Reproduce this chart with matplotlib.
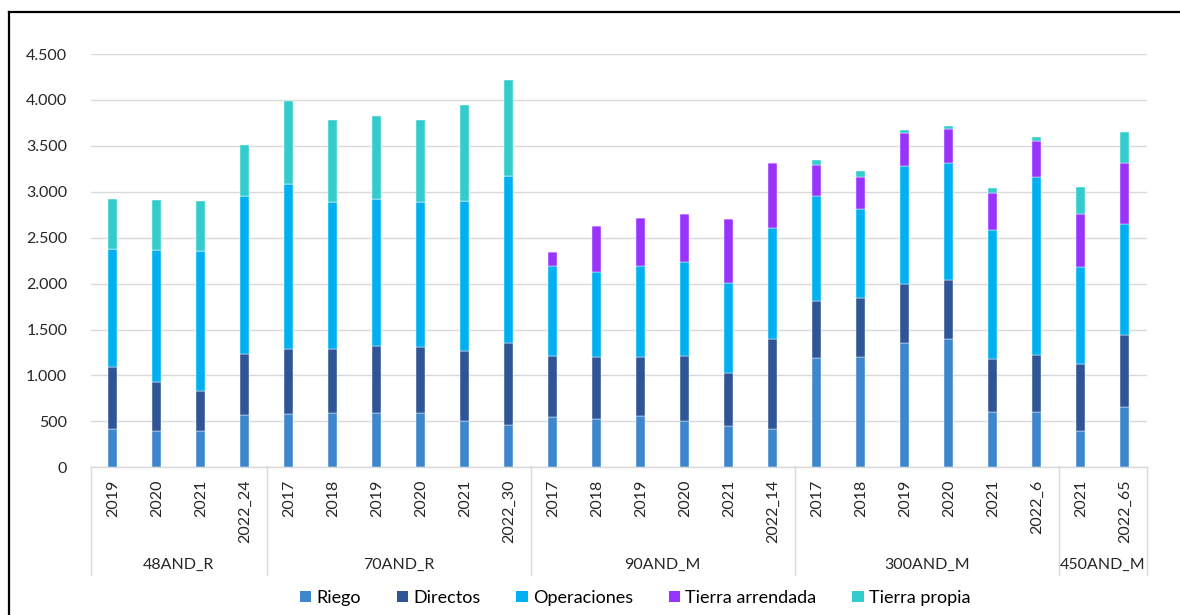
import matplotlib
matplotlib.use("Agg")
import matplotlib.pyplot as plt
from matplotlib.lines import Line2D
from matplotlib.patches import Patch
import matplotlib.transforms as mtransforms
import numpy as np

plt.rcParams['font.family'] = ['Lato', 'DejaVu Sans']

groups = ["48AND_R", "70AND_R", "90AND_M", "300AND_M", "450AND_M"]
group_sizes = [4, 6, 6, 6, 2]
years = ["2019", "2020", "2021", "2022_24",
         "2017", "2018", "2019", "2020", "2021", "2022_30",
         "2017", "2018", "2019", "2020", "2021", "2022_14",
         "2017", "2018", "2019", "2020", "2021", "2022_6",
         "2021", "2022_65"]

riego = [416, 398, 398, 568,
         579, 590, 590, 590, 503, 460,
         547, 525, 558, 503, 452, 416,
         1188, 1199, 1351, 1395, 601, 601,
         398, 655]
directos = [671, 526, 435, 667,
            714, 703, 728, 721, 761, 888,
            666, 671, 638, 710, 570, 986,
            627, 645, 649, 648, 573, 627,
            725, 787]
operaciones = [1289, 1446, 1526, 1717,
               1790, 1594, 1602, 1576, 1634, 1822,
               975, 930, 1000, 1019, 981, 1207,
               1134, 971, 1283, 1272, 1409, 1928,
               1058, 1210]
tierra_arrendada = [0, 0, 0, 0,
                    0, 0, 0, 0, 0, 0,
                    160, 500, 521, 521, 703, 699,
                    344, 344, 354, 366, 409, 398,
                    580, 659]
tierra_propia = [548, 543, 543, 559,
                 902, 899, 906, 899, 1051, 1051,
                 0, 0, 0, 0, 0, 0,
                 58, 62, 37, 40, 47, 47,
                 286, 345]

series_names = ["Riego", "Directos", "Operaciones", "Tierra arrendada", "Tierra propia"]
series = [riego, directos, operaciones, tierra_arrendada, tierra_propia]
colors = ["#3E87CC", "#2F5597", "#00B0F0", "#9933FF", "#33CCCC"]

W, H = 1180, 615
fig = plt.figure(figsize=(W / 100, H / 100), dpi=100)
ax = fig.add_axes([90.8 / W, (H - 467.3) / H, (1146.8 - 90.8) / W, (467.3 - 54) / H])

x = np.arange(len(years))
bottom = np.zeros(len(years))
for name, vals, c in zip(series_names, series, colors):
    v = np.array(vals, dtype=float)
    ax.bar(x, v, width=0.2, bottom=bottom, color=c, edgecolor="white",
           linewidth=0.3, label=name, zorder=3)
    bottom += v

ax.set_xlim(-0.5, len(years) - 0.5)
ax.set_ylim(0, 4500)
ax.set_yticks(np.arange(0, 4501, 500))
ax.set_yticklabels([f"{v:,}".replace(",", ".") for v in range(0, 4501, 500)])
ax.yaxis.grid(True, color="#D9D9D9", linewidth=1.0, zorder=0)
ax.set_axisbelow(True)
for s in ["top", "right", "left"]:
    ax.spines[s].set_visible(False)
ax.spines["bottom"].set_color("#D9D9D9")
ax.spines["bottom"].set_linewidth(1.0)
ax.tick_params(axis="y", length=0, pad=17, labelsize=11.5, labelcolor="#262626")
ax.set_xticks(x)
ax.set_xticklabels(years, rotation=90, fontsize=11.5, color="#262626")
ax.tick_params(axis="x", length=0, pad=9)

# group separators and labels
ax_h = 467.3 - 54
trans = mtransforms.blended_transform_factory(ax.transData, ax.transAxes)
sep_y = -(575 - 467.3) / ax_h
lab_y = -(565 - 467.3) / ax_h
edges = np.concatenate([[0], np.cumsum(group_sizes)]) - 0.5
for e in edges:
    ax.add_line(Line2D([e, e], [0, sep_y], transform=trans, color="#D9D9D9",
                       linewidth=1.0, clip_on=False))
for g, a, b in zip(groups, edges[:-1], edges[1:]):
    ax.text((a + b) / 2, lab_y, g, transform=trans, ha="center", va="center",
            fontsize=11.5, color="#262626")

handles = [Patch(facecolor=c, edgecolor="none") for c in colors]
fig.legend(handles, series_names, loc="center", bbox_to_anchor=(635 / W, (H - 598) / H),
           ncol=5, frameon=False, fontsize=13, handlelength=0.62, handleheight=0.62,
           handletextpad=0.28, columnspacing=2.0)

# outer frame (left and top)
fig.add_artist(Line2D([9 / W, 9 / W], [0, (H - 12) / H], transform=fig.transFigure,
                      color="black", linewidth=1.6))
fig.add_artist(Line2D([9 / W, 1], [(H - 12) / H, (H - 12) / H], transform=fig.transFigure,
                      color="black", linewidth=1.6))

fig.savefig("out.png", dpi=100)
